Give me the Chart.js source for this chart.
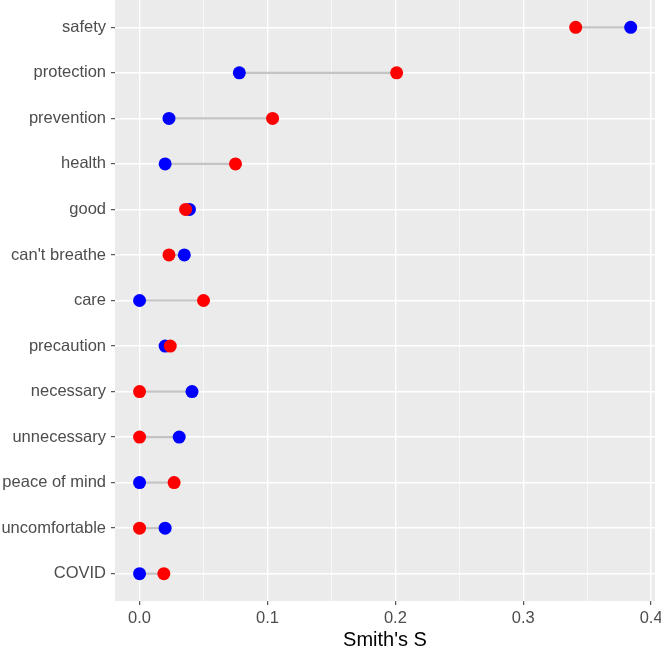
<!DOCTYPE html>
<html lang="en">
<head>
    <meta charset="UTF-8">
    <title>Smith's S dumbbell chart</title>
    <script src="https://cdn.jsdelivr.net/npm/chart.js@4.4.0/dist/chart.umd.min.js"></script>
    <style>
        html, body { margin: 0; padding: 0; background: #fff; }
        #wrap { width: 661px; height: 650px; }
    </style>
</head>
<body>
    <div id="wrap"><canvas id="chart"></canvas></div>

    <script>
        // words, top to bottom
        const categories = ['safety', 'protection', 'prevention', 'health', 'good', "can't breathe", 'care',
            'precaution', 'necessary', 'unnecessary', 'peace of mind', 'uncomfortable', 'COVID'];
        // Smith's S, blue group
        const blueValues = [0.384, 0.078, 0.023, 0.020, 0.039, 0.035, 0.0, 0.020, 0.041, 0.031, 0.0, 0.020, 0.0];
        // Smith's S, red group
        const redValues = [0.341, 0.201, 0.104, 0.075, 0.036, 0.023, 0.050, 0.024, 0.0, 0.0, 0.027, 0.0, 0.019];
        const xTicks = [0, 0.05, 0.1, 0.15, 0.2, 0.25, 0.3, 0.35, 0.4];

        const font = "'Liberation Sans', Arial, sans-serif";

        // grey panel behind the plot
        const panelBg = {
            id: 'panelBg',
            beforeDraw(chart) {
                const a = chart.chartArea;
                const ctx = chart.ctx;
                ctx.save();
                ctx.fillStyle = '#EBEBEB';
                ctx.fillRect(a.left, a.top, a.right - a.left, a.bottom - a.top);
                ctx.restore();
            }
        };

        const isMajor = v => Math.abs(v * 10 - Math.round(v * 10)) < 1e-6;

        new Chart(document.getElementById('chart'), {
            type: 'scatter',
            data: {
                datasets: [
                    {
                        type: 'bar',
                        indexAxis: 'y',
                        data: categories.map((c, i) => ({ y: i + 1, x: [Math.min(blueValues[i], redValues[i]), Math.max(blueValues[i], redValues[i])] })),
                        backgroundColor: '#C4C4C4',
                        barThickness: 1.5,
                        borderWidth: 0,
                        order: 3
                    },
                    {
                        data: categories.map((c, i) => ({ x: blueValues[i], y: i + 1 })),
                        backgroundColor: '#0000FF',
                        borderWidth: 0,
                        pointRadius: 6.5,
                        order: 2
                    },
                    {
                        data: categories.map((c, i) => ({ x: redValues[i], y: i + 1 })),
                        backgroundColor: '#FF0000',
                        borderWidth: 0,
                        pointRadius: 6.5,
                        order: 1
                    }
                ]
            },
            options: {
                responsive: true,
                maintainAspectRatio: false,
                animation: false,
                layout: { autoPadding: false, padding: { top: 0, right: 6, bottom: 0, left: 0 } },
                plugins: {
                    legend: { display: false },
                    tooltip: { enabled: false }
                },
                scales: {
                    x: {
                        type: 'linear',
                        min: -0.0192,
                        max: 0.403,
                        offset: false,
                        afterBuildTicks: s => { s.ticks = xTicks.map(v => ({ value: v })); },
                        afterFit: s => { s.height = 49; s.paddingLeft = 0; s.paddingRight = 0; },
                        border: { display: false },
                        grid: {
                            offset: false,
                            color: '#FFFFFF',
                            lineWidth: c => isMajor(c.tick.value) ? 1.4 : 0.6,
                            tickLength: 4,
                            tickColor: c => isMajor(c.tick.value) ? '#333333' : 'rgba(0,0,0,0)',
                            tickWidth: 1
                        },
                        ticks: {
                            color: '#4D4D4D',
                            font: { family: font, size: 16.5 },
                            padding: 4,
                            maxRotation: 0,
                            autoSkip: false,
                            callback: v => isMajor(v) ? v.toFixed(1) : ''
                        },
                        title: {
                            display: true,
                            text: "Smith's S",
                            color: '#000000',
                            font: { family: font, size: 20, lineHeight: 1 },
                            padding: { top: 0, bottom: 0 }
                        }
                    },
                    y: {
                        type: 'linear',
                        reverse: true,
                        min: 0.4,
                        max: 13.6,
                        offset: false,
                        afterBuildTicks: s => { s.ticks = categories.map((c, i) => ({ value: i + 1 })); },
                        afterFit: s => { s.width = 115; s.paddingTop = 0; s.paddingBottom = 0; },
                        border: { display: false },
                        grid: {
                            offset: false,
                            color: '#FFFFFF',
                            lineWidth: 1.4,
                            tickLength: 4,
                            tickColor: '#333333',
                            tickWidth: 1
                        },
                        ticks: {
                            color: '#4D4D4D',
                            font: { family: font, size: 16.5 },
                            padding: 5,
                            autoSkip: false,
                            callback: v => categories[Math.round(v) - 1]
                        }
                    }
                }
            },
            plugins: [panelBg]
        });
    </script>
</body>
</html>
